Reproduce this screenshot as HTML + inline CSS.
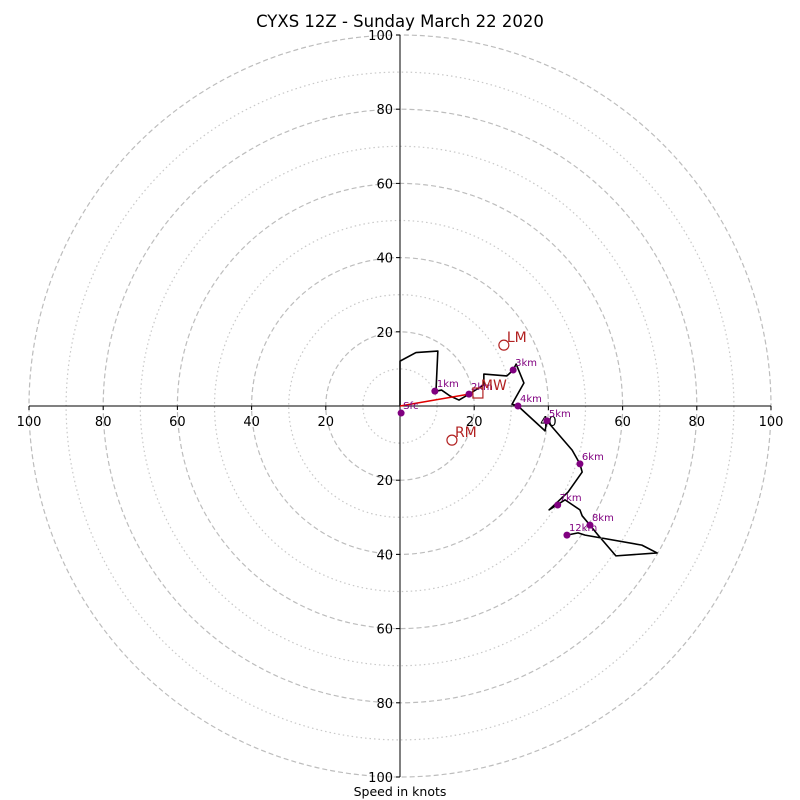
<!DOCTYPE html>
<html><head><meta charset="utf-8"><style>
html,body{margin:0;padding:0;background:#fff;}
svg{display:block;font-family:"DejaVu Sans","Liberation Sans",sans-serif;}
</style></head><body>
<svg id="chart" width="800" height="800" viewBox="0 0 800 800" xmlns="http://www.w3.org/2000/svg">
<text x="400" y="27" text-anchor="middle" font-size="16.5">CYXS 12Z - Sunday March 22 2020</text>
<text x="400" y="796" text-anchor="middle" font-size="12.5">Speed in knots</text>
</svg>
<script>
const ringsMajor = [20, 40, 60, 80, 100];
const ringsMinor = [10, 30, 50, 70, 90];
const tickLabels = ["100","80","60","40","20","","20","40","60","80","100"];
const tickValues = [-100,-80,-60,-40,-20,0,20,40,60,80,100];
const traceU = [0,0,4.3,10.2,9.7,11.2,13.5,15.9,18.6,22.6,22.6,28.8,30.5,31.3,33.4,30.2,31.8,39.1,39.6,46.4,48.5,49.1,45.3,40.2,44.5,48.5,49.1,51.2,53.4,58.2,69.3,65.2,49.9,48.0,45.0];
const traceV = [0,12.1,14.4,14.8,4.0,4.3,2.7,1.6,3.2,5.7,8.6,8.1,9.7,11.3,6.2,0.5,0,-6.7,-4.0,-11.9,-15.6,-17.8,-23.2,-28.0,-25.3,-28.0,-29.6,-32.1,-34.8,-40.4,-39.6,-37.5,-34.8,-34.2,-34.8];
const levelNames = ["Sfc","1km","2km","3km","4km","5km","6km","7km","8km","12km"];
const levelU = [0.3,9.4,18.6,30.5,31.8,39.6,48.5,42.5,51.2,45.0];
const levelV = [-1.9,4.0,3.2,9.7,0,-4.0,-15.6,-26.7,-32.1,-34.8];
const motionNames = ["LM","RM","MW"];
const motionU = [28.0,14.0,21.0];
const motionV = [16.4,-9.2,3.5];

const cx=400, cy=406, k=3.71;
const X=u=>cx+u*k, Y=v=>cy-v*k;
const svg=document.getElementById('chart');
const NS='http://www.w3.org/2000/svg';
function mk(t,a){const e=document.createElementNS(NS,t);for(const n in a)e.setAttribute(n,a[n]);svg.appendChild(e);return e;}

ringsMinor.forEach(r=>{
  const c=mk('circle',{cx:cx,cy:cy,r:r*k,fill:'none',stroke:'#c8c8c8','stroke-width':1.2,'stroke-dasharray':'1.5,3'});
  
  
});
ringsMajor.forEach(r=>{
  const c=mk('circle',{cx:cx,cy:cy,r:r*k,fill:'none',stroke:'#bdbdbd','stroke-width':1.2,'stroke-dasharray':'5,3'});
  
  
});
let ax=mk('line',{x1:X(-100),y1:cy,x2:X(100),y2:cy,stroke:'#000','stroke-width':1});


ax=mk('line',{x1:cx,y1:Y(100),x2:cx,y2:Y(-100),stroke:'#000','stroke-width':1});


tickValues.forEach((v,i)=>{
  if(!tickLabels[i])return;
  mk('line',{x1:X(v),y1:cy,x2:X(v),y2:cy+4,stroke:'#000'});
  const t=mk('text',{x:X(v),y:cy+20,'text-anchor':'middle','font-size':13});
  t.textContent=tickLabels[i];
  
  
  mk('line',{x1:cx-4,y1:Y(v),x2:cx,y2:Y(v),stroke:'#000'});
  const t2=mk('text',{x:cx-7,y:Y(v)+5,'text-anchor':'end','font-size':13});
  t2.textContent=tickLabels[i];
  
  
});
const pts=traceU.map((u,i)=>X(u)+','+Y(traceV[i])).join(' ');
const tr=mk('polyline',{points:pts,fill:'none',stroke:'#000','stroke-width':1.6,'stroke-linejoin':'round'});


const sh=mk('line',{x1:X(0),y1:Y(0),x2:X(levelU[2]),y2:Y(levelV[2]),stroke:'#e00000','stroke-width':1.6});


levelNames.forEach((n,i)=>{
  const d=mk('circle',{cx:X(levelU[i]),cy:Y(levelV[i]),r:3.5,fill:'#800080'});
  
  
  const t=mk('text',{x:X(levelU[i])+2,y:Y(levelV[i])-4,'font-size':10,fill:'#800080'});
  t.textContent=n;
  
  
});
motionNames.forEach((n,i)=>{
  const x=X(motionU[i]),y=Y(motionV[i]);
  let m;
  if(n==='MW') m=mk('rect',{x:x-5,y:y-5,width:10,height:10,fill:'none',stroke:'#b22222','stroke-width':1.2});
  else m=mk('circle',{cx:x,cy:y,r:5,fill:'none',stroke:'#b22222','stroke-width':1.2});
  
  
  const t=mk('text',{x:x+3,y:y-3,'font-size':14,fill:'#b22222'});
  t.textContent=n;
  
  
});
</script>
</body></html>
